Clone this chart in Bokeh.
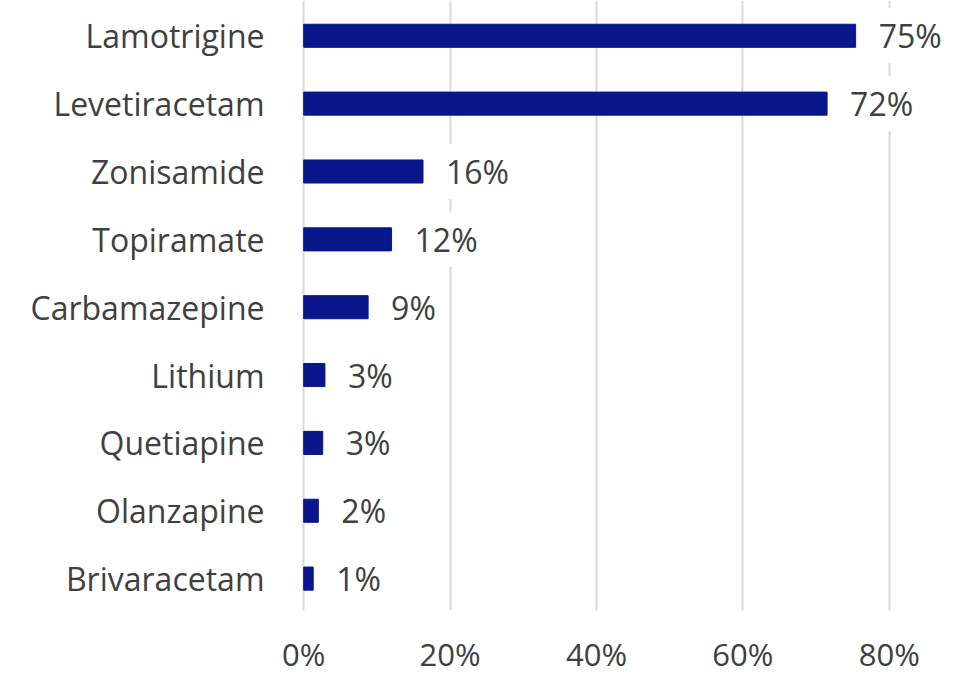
from bokeh.plotting import figure
from bokeh.models import ColumnDataSource, FixedTicker, Range1d
from bokeh.core.properties import value
from bokeh.embed import file_html
from bokeh.resources import INLINE

# ---- data (top to bottom) ----
drugs = ["Lamotrigine", "Levetiracetam", "Zonisamide", "Topiramate", "Carbamazepine",
         "Lithium", "Quetiapine", "Olanzapine", "Brivaracetam"]
share = [75.4, 71.5, 16.3, 12.0, 8.8, 2.9, 2.6, 2.0, 1.3]
share_labels = ["75%", "72%", "16%", "12%", "9%", "3%", "3%", "2%", "1%"]
x_ticks = [0, 20, 40, 60, 80]
x_tick_labels = ["0%", "20%", "40%", "60%", "80%"]

FONT = "Open Sans"
TXT = "#404040"
BAR = "#0a168c"

n = len(drugs)
ypos = [n - 1 - i for i in range(n)]
src = ColumnDataSource(dict(y=ypos, v=share, lab=share_labels, name=drugs))

p = figure(frame_width=661, frame_height=610, output_backend="svg", toolbar_location=None,
           x_range=Range1d(-0.3, 90), y_range=Range1d(-0.47, n - 1 + 0.52),
           min_border_left=301, min_border_right=0, min_border_top=0, min_border_bottom=0)
p.outline_line_color = None
p.background_fill_color = "white"
p.border_fill_color = "white"

p.hbar(y="y", left=0, right="v", height=0.34, source=src,
       fill_color=BAR, line_color=BAR)

p.text(x="v", y="y", text="lab", source=src, x_offset=17,
       text_font=value(FONT), text_font_size="32px", text_color=TXT,
       text_align="left", text_baseline="middle",
       background_fill_color="white", padding=6)

# y axis with category names
p.yaxis.ticker = FixedTicker(ticks=ypos)
p.yaxis.major_label_overrides = {yy: nm for yy, nm in zip(ypos, drugs)}
p.yaxis.axis_line_color = None
p.yaxis.major_tick_line_color = None
p.yaxis.minor_tick_line_color = None
p.yaxis.major_label_standoff = 31
p.yaxis.major_label_text_font = FONT
p.yaxis.major_label_text_font_size = "32px"
p.yaxis.major_label_text_color = TXT
p.ygrid.grid_line_color = None

# x axis
p.xaxis.ticker = FixedTicker(ticks=x_ticks)
p.xaxis.major_label_overrides = {t: l for t, l in zip(x_ticks, x_tick_labels)}
p.xaxis.axis_line_color = None
p.xaxis.major_tick_line_color = None
p.xaxis.minor_tick_line_color = None
p.xaxis.major_label_standoff = 16
p.xaxis.major_label_text_font = FONT
p.xaxis.major_label_text_font_size = "31px"
p.xaxis.major_label_text_color = TXT
p.xgrid.ticker = FixedTicker(ticks=x_ticks)
p.xgrid.grid_line_color = "#d9d9d9"
p.xgrid.grid_line_width = 2
p.xgrid.level = "underlay"

open("out.html", "w").write(file_html(p, INLINE))
